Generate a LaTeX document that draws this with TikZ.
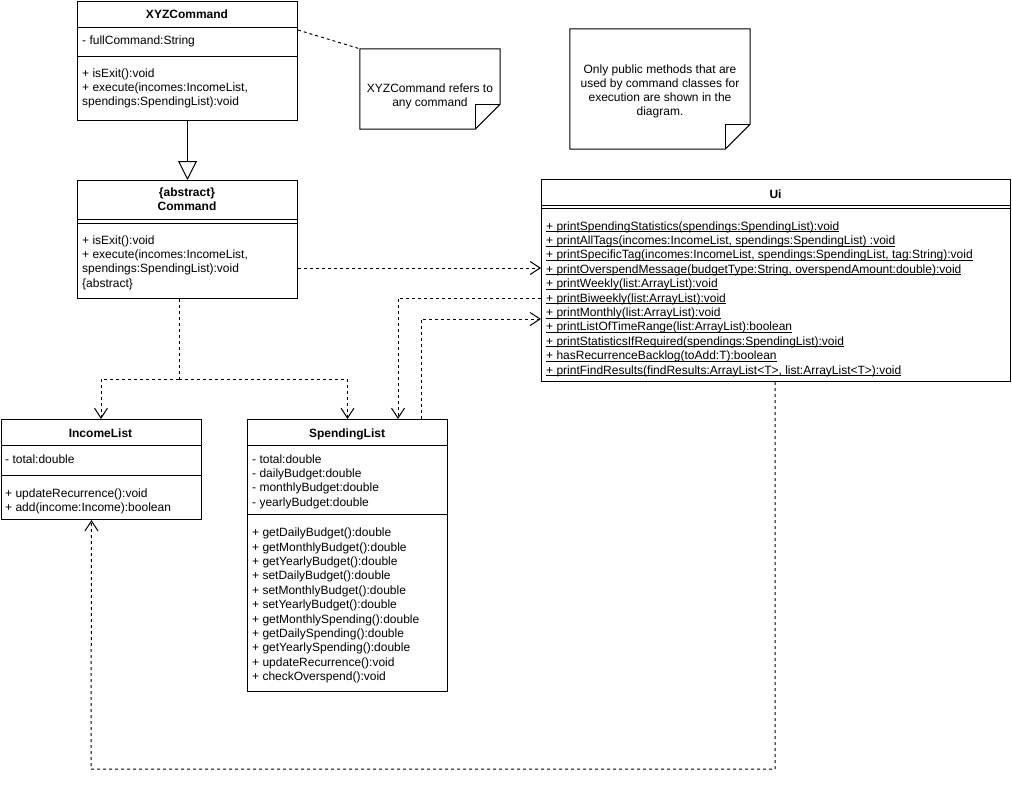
\documentclass[tikz,border=0pt]{standalone}
\usepackage{fontspec}
\setmainfont{Liberation Sans}
\usetikzlibrary{positioning}
\usetikzlibrary{calc}
\usetikzlibrary{arrows.meta}

\newcommand{\stat}[1]{\underline{\smash{#1}}}

\tikzset{
	classbox/.style = {draw, rectangle, line width=1pt, inner sep=0pt, anchor=north west},
	classname/.style = {font=\fontsize{12}{14.4}\selectfont\bfseries, inner sep=0pt, anchor=base},
	member/.style = {font=\fontsize{12}{14.4}\selectfont, inner sep=0pt, anchor=base west},
	notebox/.style = {rectangle, inner sep=0pt},
	notetext/.style = {font=\fontsize{12}{14}\selectfont, inner sep=0pt, align=center},
	sepline/.style = {line width=1pt},
	dashline/.style = {line width=1pt, dash pattern=on 3pt off 3pt},
	dep/.style = {dashline, -{Straight Barb[length=10pt,width=13pt]}},
	gen/.style = {line width=1pt, -{Triangle[open,length=19pt,width=19pt,fill=white]}}
}

\begin{document}
\begin{tikzpicture}[x=1pt, y=-1pt]
	\useasboundingbox (0,0) rectangle (1012,785);

	% XYZCommand
	\node[classbox, minimum width=220pt, minimum height=119pt] at (77,1) (xyz) {};
	\draw[sepline] ($(xyz.north west)+(0,26)$) -- ($(xyz.north east)+(0,26)$);
	\draw[sepline] ($(xyz.north west)+(0,55)$) -- ($(xyz.north east)+(0,55)$);
	\node[classname] at (187,18) (xyzname) {XYZCommand};
	\node[member] at (82,44) (xyzattr) {- fullCommand:String};
	\foreach \t [count=\i from 0] in {{+ isExit():void}, {+ execute(incomes:IncomeList,}, {spendings:SpendingList):void}}
		\node[member] at (82,77+14.4*\i) (xyzop\i) {\t};

	% notes
	\node[notebox, minimum width=140pt, minimum height=80pt] at (430,89) (note1) {};
	\draw[sepline] (note1.north west) -- (note1.north east) -- ($(note1.south east)+(0,-25)$) -- ($(note1.south east)+(-25,0)$) -- (note1.south west) -- cycle;
	\draw[sepline] ($(note1.south east)+(-25,0)$) -- ($(note1.south east)+(-25,-25)$) -- ($(note1.south east)+(0,-25)$);
	\node[notetext] at (430,96) (note1text) {XYZCommand refers to\\any command};

	\node[notebox, minimum width=180pt, minimum height=120pt] at (660,89) (note2) {};
	\draw[sepline] (note2.north west) -- (note2.north east) -- ($(note2.south east)+(0,-25)$) -- ($(note2.south east)+(-25,0)$) -- (note2.south west) -- cycle;
	\draw[sepline] ($(note2.south east)+(-25,0)$) -- ($(note2.south east)+(-25,-25)$) -- ($(note2.south east)+(0,-25)$);
	\node[notetext] at (660,91) (note2text) {Only public methods that are\\used by command classes for\\execution are shown in the\\diagram.};

	% Command
	\node[classbox, minimum width=220pt, minimum height=118pt] at (77,180) (cmd) {};
	\draw[sepline] ($(cmd.north west)+(0,39.3)$) -- ($(cmd.north east)+(0,39.3)$);
	\draw[sepline] ($(cmd.north west)+(0,43.3)$) -- ($(cmd.north east)+(0,43.3)$);
	\node[classname] at (187,196) (cmdabs) {\{abstract\}};
	\node[classname] at (187,210) (cmdname) {Command};
	\foreach \t [count=\i from 0] in {{+ isExit():void}, {+ execute(incomes:IncomeList,}, {spendings:SpendingList):void}, {\{abstract\}}}
		\node[member] at (82,244+14.4*\i) (cmdop\i) {\t};

	% Ui
	\node[classbox, minimum width=469pt, minimum height=202pt] at (541,179) (ui) {};
	\draw[sepline] ($(ui.north west)+(0,26)$) -- ($(ui.north east)+(0,26)$);
	\draw[sepline] ($(ui.north west)+(0,29.5)$) -- ($(ui.north east)+(0,29.5)$);
	\node[classname] at (775.5,198) (uiname) {Ui};
	\foreach \t [count=\i from 0] in {
		{+ printSpendingStatistics(spendings:SpendingList):void},
		{+ printAllTags(incomes:IncomeList, spendings:SpendingList) :void},
		{+ printSpecificTag(incomes:IncomeList, spendings:SpendingList, tag:String):void},
		{+ printOverspendMessage(budgetType:String, overspendAmount:double):void},
		{+ printWeekly(list:ArrayList):void},
		{+ printBiweekly(list:ArrayList):void},
		{+ printMonthly(list:ArrayList):void},
		{+ printListOfTimeRange(list:ArrayList):boolean},
		{+ printStatisticsIfRequired(spendings:SpendingList):void},
		{+ hasRecurrenceBacklog(toAdd:T):boolean},
		{+ printFindResults(findResults:ArrayList<T>, list:ArrayList<T>):void}}
		\node[member] at (546,230+14.4*\i) (uiop\i) {\stat{\t}};

	% IncomeList
	\node[classbox, minimum width=200pt, minimum height=100pt] at (0.5,419) (income) {};
	\draw[sepline] ($(income.north west)+(0,26)$) -- ($(income.north east)+(0,26)$);
	\draw[sepline] ($(income.north west)+(0,56)$) -- ($(income.north east)+(0,56)$);
	\node[classname] at (100.5,437) (incomename) {IncomeList};
	\node[member] at (5,463) (incomeattr) {- total:double};
	\node[member] at (5,497) (incomeop0) {+ updateRecurrence():void};
	\node[member] at (5,511.4) (incomeop1) {+ add(income:Income):boolean};

	% SpendingList
	\node[classbox, minimum width=200pt, minimum height=272pt] at (247,419) (spend) {};
	\draw[sepline] ($(spend.north west)+(0,26)$) -- ($(spend.north east)+(0,26)$);
	\draw[sepline] ($(spend.north west)+(0,95)$) -- ($(spend.north east)+(0,95)$);
	\node[classname] at (347,437) (spendname) {SpendingList};
	\foreach \t [count=\i from 0] in {{- total:double}, {- dailyBudget:double}, {- monthlyBudget:double}, {- yearlyBudget:double}}
		\node[member] at (252,463+14.4*\i) (spendattr\i) {\t};
	\foreach \t [count=\i from 0] in {
		{+ getDailyBudget():double}, {+ getMonthlyBudget():double}, {+ getYearlyBudget():double},
		{+ setDailyBudget():double}, {+ setMonthlyBudget():double}, {+ setYearlyBudget():double},
		{+ getMonthlySpending():double}, {+ getDailySpending():double}, {+ getYearlySpending():double},
		{+ updateRecurrence():void}, {+ checkOverspend():void}}
		\node[member] at (252,536.7+14.4*\i) (spendop\i) {\t};

	% connectors
	\draw[dashline] ($(xyz.north east)+(0,29)$) -- (note1.north west);
	\draw[gen] (xyz.south) -- (cmd.north);
	\draw[dep] ($(cmd.north east)+(0,88)$) -- ($(ui.north west)+(0,89)$);
	\coordinate (split) at (179,379);
	\draw[dashline] ($(cmd.south west)+(102,0)$) -- (split);
	\draw[dep] (split) -| (income.north);
	\draw[dep] (split) -| (spend.north);
	\draw[dep] ($(ui.north west)+(0,119)$) -| ($(spend.north east)+(-50,0)$);
	\draw[dep] ($(spend.north east)+(-27,0)$) |- ($(ui.north west)+(0,140)$);
	\coordinate (bottomleft) at (91,769);
	\draw[dep] ($(ui.south west)+(234,0)$) |- (bottomleft) -- ($(income.south)+(-9.5,0)$);
\end{tikzpicture}
\end{document}
